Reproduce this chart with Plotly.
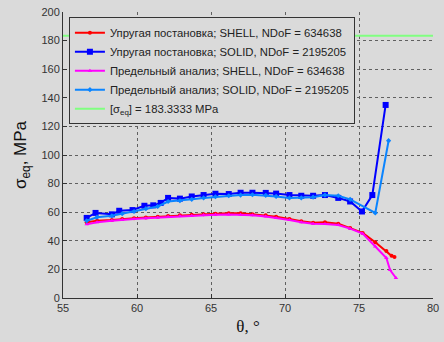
import plotly.graph_objects as go

# SHELL elastic (red)
x_shell_el = [56.6, 57.3, 58.3, 59.0, 59.8, 60.6, 61.4, 62.1, 62.9, 63.7, 64.5, 65.3, 66.2, 67.0, 67.8, 68.7, 69.4, 70.3, 71.1, 71.9, 72.7, 73.6, 74.4, 75.25, 76.1, 76.85, 77.2, 77.4]
y_shell_el = [53.0, 54.0, 54.5, 55.3, 55.8, 56.3, 56.8, 57.3, 57.8, 58.2, 58.6, 59.0, 59.2, 59.2, 58.5, 57.8, 56.9, 55.2, 53.6, 52.7, 53.0, 52.0, 49.0, 45.5, 39.0, 32.9, 29.5, 28.7]
# SOLID elastic (blue)
x_solid_el = [56.6, 57.2, 58.3, 58.8, 59.7, 60.5, 61.1, 61.6, 62.1, 62.9, 63.7, 64.5, 65.3, 66.2, 67.0, 67.8, 68.7, 69.4, 70.3, 71.1, 71.9, 72.7, 73.6, 74.4, 75.2, 75.9, 76.8]
y_solid_el = [56.0, 59.5, 58.5, 61.0, 61.5, 64.5, 64.8, 66.5, 70.0, 69.5, 71.0, 72.0, 72.9, 72.7, 73.6, 73.6, 73.5, 73.0, 72.0, 71.5, 71.5, 72.0, 70.0, 67.5, 60.5, 72.0, 135.0]
# SHELL limit (magenta)
x_shell_lim = [56.6, 57.3, 58.3, 59.0, 59.8, 60.6, 61.4, 62.1, 62.9, 63.7, 64.5, 65.3, 66.2, 67.0, 67.8, 68.7, 69.4, 70.3, 71.1, 71.9, 72.7, 73.6, 74.4, 75.25, 76.1, 76.85, 77.1, 77.5]
y_shell_lim = [51.5, 53.0, 54.0, 54.8, 55.3, 55.8, 56.3, 56.8, 57.3, 57.6, 58.0, 58.3, 58.4, 58.3, 57.8, 57.0, 56.0, 54.5, 53.0, 52.0, 51.8, 51.0, 48.5, 45.0, 36.0, 28.0, 19.5, 14.0]
# SOLID limit (light blue)
x_solid_lim = [56.6, 57.3, 58.3, 59.0, 59.8, 60.6, 61.4, 62.1, 62.9, 63.7, 64.5, 65.3, 66.2, 67.0, 67.8, 68.7, 69.4, 70.3, 71.1, 71.9, 72.7, 73.6, 74.4, 76.1, 77.0]
y_solid_lim = [54.0, 56.5, 57.5, 59.0, 60.5, 62.5, 64.0, 67.5, 68.0, 69.0, 70.0, 70.8, 71.5, 72.0, 72.2, 71.8, 71.0, 70.0, 70.0, 70.5, 72.0, 71.5, 69.0, 59.5, 110.0]

allow_stress = 183.3333
x_range = [55, 80]
y_range = [0, 200]

names = [
    "Упругая постановка; SHELL, NDoF = 634638",
    "Упругая постановка; SOLID, NDoF = 2195205",
    "Предельный анализ; SHELL, NDoF = 634638",
    "Предельный анализ; SOLID, NDoF = 2195205",
    "[σ<sub>eq</sub>] = 183.3333 MPa",
]

bg = "#dadada"
fig = go.Figure()
fig.add_trace(go.Scatter(x=x_shell_el, y=y_shell_el, mode="lines+markers", name=names[0],
                         line=dict(color="#ff0000", width=2), marker=dict(symbol="circle", size=4)))
fig.add_trace(go.Scatter(x=x_solid_el, y=y_solid_el, mode="lines+markers", name=names[1],
                         line=dict(color="#0000ff", width=2), marker=dict(symbol="square", size=6)))
fig.add_trace(go.Scatter(x=x_shell_lim, y=y_shell_lim, mode="lines+markers", name=names[2],
                         line=dict(color="#ff00ff", width=2), marker=dict(symbol="triangle-up", size=4)))
fig.add_trace(go.Scatter(x=x_solid_lim, y=y_solid_lim, mode="lines+markers", name=names[3],
                         line=dict(color="#0a84ff", width=2), marker=dict(symbol="diamond", size=4)))
fig.add_trace(go.Scatter(x=x_range, y=[allow_stress, allow_stress], mode="lines", name=names[4],
                         line=dict(color="#80ff80", width=2)))

axis_common = dict(showgrid=True, gridcolor="#606060", griddash="dot", gridwidth=1,
                   showline=True, linecolor="#333333", linewidth=1, ticks="inside", ticklen=4,
                   tickcolor="#333333", zeroline=False, ticklabeloverflow="allow",
                   tickfont=dict(family="Liberation Sans, Arial", size=11, color="#333333"))
fig.update_xaxes(range=x_range, dtick=5, **axis_common,
                 title=dict(text="θ, °", font=dict(family="Liberation Serif, Times New Roman", size=17, color="#111111"), standoff=6))
fig.update_yaxes(range=y_range, dtick=20, **axis_common,
                 title=dict(text="σ<sub>eq</sub>, MPa", font=dict(family="Liberation Sans, Arial", size=17, color="#111111"), standoff=10))

fig.update_layout(
    width=444, height=342,
    margin=dict(l=63, r=5, t=12, b=44),
    paper_bgcolor=bg, plot_bgcolor=bg,
    showlegend=True,
    legend=dict(x=0.016, y=0.982, xanchor="left", yanchor="top",
                bgcolor=bg, bordercolor="#333333", borderwidth=1,
                font=dict(family="Liberation Sans, Arial", size=11.3, color="#222222"),
                tracegroupgap=0, itemwidth=30),
)
fig.write_html("out.html")
